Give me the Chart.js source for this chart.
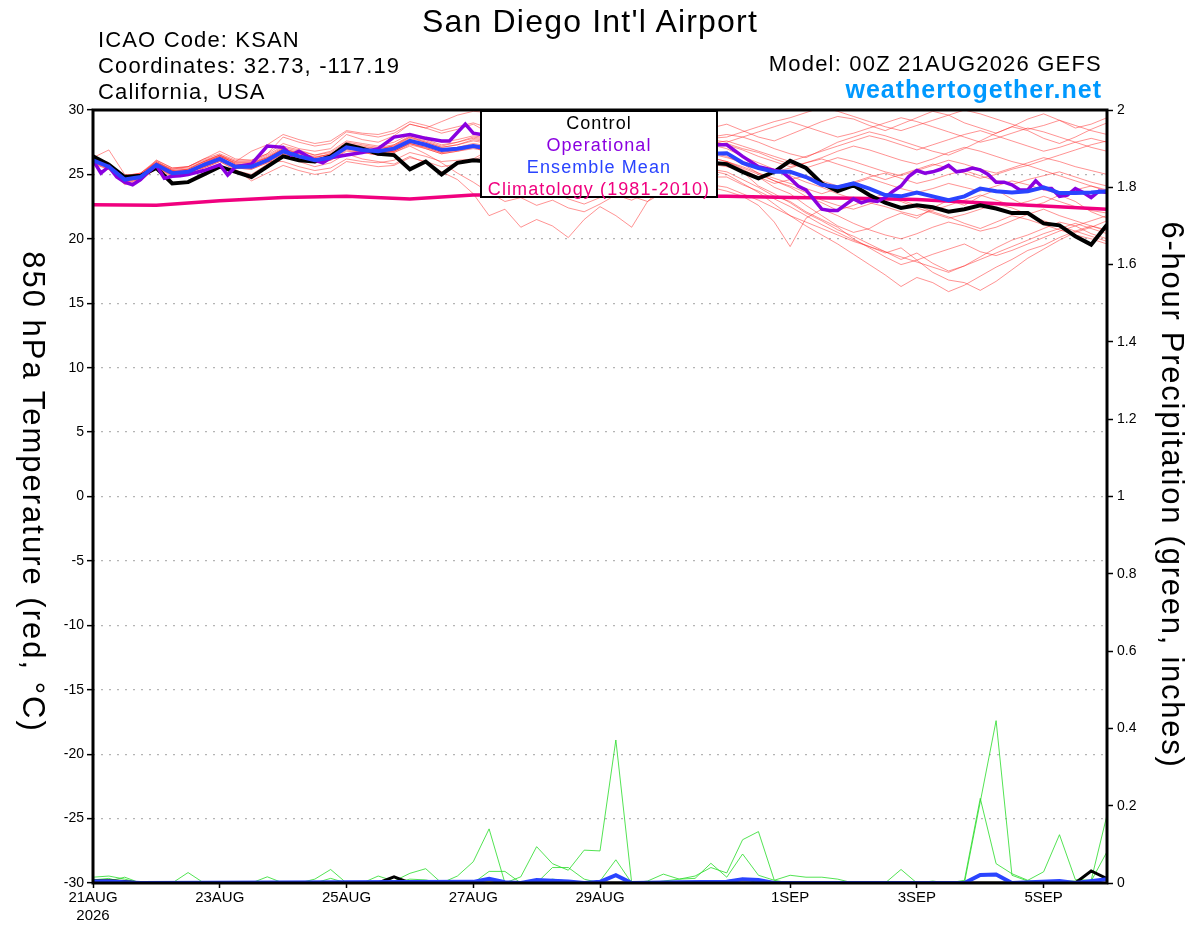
<!DOCTYPE html>
<html>
<head>
<meta charset="utf-8">
<title>San Diego Int'l Airport - GEFS</title>
<script src="https://cdn.jsdelivr.net/npm/chart.js@4.4.0/dist/chart.umd.min.js"></script>
<style>
  body { margin: 0; background: #fff; }
  #wrap { position: relative; width: 1200px; height: 927px; font-family: 'Liberation Sans', Arial, sans-serif; }
  #wrap canvas { position: absolute; left: 0; top: 0; }
  .txt { position: absolute; white-space: nowrap; line-height: 1; color: #000; }
  .rot { position: absolute; width: 700px; text-align: center; transform: rotate(90deg); font-size: 31px; line-height: 34px; height: 34px; }
  #legendBox { position: absolute; left: 480px; top: 110px; width: 234px; height: 84px; border: 2px solid #000; background: #fff;
               text-align: center; font-size: 18px; line-height: 22px; letter-spacing: 1.1px; }
</style>
</head>
<body>
<div id="wrap">
  <canvas id="chart" width="1200" height="927"></canvas>
  <div class="txt" style="left:0;width:1180px;text-align:center;top:5px;font-size:32px;letter-spacing:1.2px;">San Diego Int'l Airport</div>
  <div class="txt" style="left:98px;top:29px;font-size:22px;letter-spacing:1.15px;">ICAO Code: KSAN</div>
  <div class="txt" style="left:98px;top:55px;font-size:22px;letter-spacing:1.15px;">Coordinates: 32.73, -117.19</div>
  <div class="txt" style="left:98px;top:81px;font-size:22px;letter-spacing:1.15px;">California, USA</div>
  <div class="txt" style="right:98px;top:53px;font-size:22px;letter-spacing:1.2px;">Model: 00Z 21AUG2026 GEFS</div>
  <div class="txt" style="right:98px;top:77px;font-size:25px;font-weight:bold;letter-spacing:1px;color:#0099ff;">weathertogether.net</div>
  <div class="rot" style="left:-317px;top:475px;letter-spacing:2px;">850 hPa Temperature (red, °C)</div>
  <div class="rot" style="left:822px;top:478px;letter-spacing:1.75px;">6-hour Precipitation (green, inches)</div>
  <div id="legendBox">
    <div style="color:#000">Control</div>
    <div style="color:#8a00e0">Operational</div>
    <div style="color:#2a44ff">Ensemble Mean</div>
    <div style="color:#f0007f">Climatology (1981-2010)</div>
  </div>
</div>
<script>
// forecast hours, 6-hourly from 00Z 21AUG2026
const hours = Array.from({ length: 65 }, (_, i) => i * 6);

// x axis tick labels
const tickHours = [0, 48, 96, 144, 192, 264, 312, 360];
const tickLabels = [["21AUG", "2026"], "23AUG", "25AUG", "27AUG", "29AUG", "1SEP", "3SEP", "5SEP"];

// control run (black)
const controlTemps = [
    26.4, 25.75, 24.8, 24.9, 25.5, 24.3, 24.4, 25.0, 25.6, 25.2, 24.8, 25.6, 26.4, 26.1, 26.0, 26.4, 27.3, 27.0, 26.6, 26.5, 25.4, 26.0, 25.0, 25.9, 26.1,
    26.0, 25.8, 25.5, 25.9, 26.2, 25.7, 25.4, 25.8, 26.1, 25.9, 25.6, 25.3, 25.7, 26.0, 25.9,
    25.8, 25.2, 24.7, 25.2, 26.05, 25.5, 24.3, 23.7, 24.15, 23.4, 22.8, 22.4, 22.6, 22.45, 22.1, 22.3, 22.6, 22.35, 22.0, 22.0, 21.2, 21.05, 20.2, 19.55, 21.1
];

// ensemble mean (blue)
const meanTemps = [
    26.1, 25.6, 24.6, 24.8, 25.75, 25.1, 25.2, 25.75, 26.2, 25.6, 25.6, 26.1, 26.8, 26.4, 26.1, 26.3, 27.1, 26.9, 26.8, 27.0, 27.6, 27.3, 26.9, 27.0, 27.2,
    27.0, 26.9, 26.8, 26.6, 26.5, 26.3, 26.2, 26.2, 26.3, 26.5, 26.6, 26.6, 26.7, 26.8, 26.6,
    26.65, 25.9, 25.5, 25.2, 25.2, 24.8, 24.2, 24.0, 24.3, 23.9, 23.4, 23.3, 23.6, 23.3, 23.0, 23.3, 23.9, 23.7, 23.6, 23.7, 24.0, 23.55, 23.55, 23.6, 23.7
];

// operational run (purple), 3-hourly vertices
const opHours = [0, 3, 6, 9, 12, 15, 18, 21, 24, 27, 30, 33, 36, 42, 48, 51, 54, 60, 66, 72, 75, 78, 84, 87, 90, 96, 102, 108, 114, 120, 126, 132, 135, 141, 144, 147,
    150, 156, 162, 168, 174, 180, 186, 192, 198, 204, 210, 216, 222, 228, 234, 237, 240, 246, 252, 258, 261, 264, 267, 270, 276, 279, 282, 288, 291, 294, 297, 300,
    303, 306, 309, 312, 315, 318, 321, 324, 327, 330, 333, 336, 339, 342, 345, 348, 351, 354, 357, 360, 363, 366, 369, 372, 375, 378, 381, 384];
const opTemps = [26.1, 25.1, 25.6, 24.8, 24.4, 24.2, 24.6, 25.2, 25.7, 24.7, 24.85, 24.9, 25.0, 25.3, 25.75, 24.95, 25.6, 25.8, 27.2, 27.1, 26.5, 26.8, 26.1, 25.9, 26.3, 26.5, 26.7, 27.0, 27.9, 28.1, 27.8, 27.6, 27.6, 28.9, 28.2, 28.1,
    28.0, 27.7, 27.9, 27.5, 27.2, 27.6, 27.8, 27.4, 27.1, 27.3, 27.6, 27.2, 26.9, 27.1, 27.3, 27.3, 27.3, 26.4, 25.6, 25.3, 25.2, 24.7, 24.1, 23.8, 22.3, 22.2, 22.2, 23.1, 22.8, 23.0, 22.9, 23.2,
    23.7, 24.1, 24.85, 25.3, 25.1, 25.2, 25.4, 25.7, 25.2, 25.3, 25.5, 25.35, 25.0, 24.4, 24.4, 24.2, 23.8, 23.8, 24.5, 23.9, 23.9, 23.3, 23.4, 23.9, 23.6, 23.2, 23.7, 23.6];

// climatology 1981-2010 (pink), daily
const climHours = [0, 24, 48, 72, 96, 120, 144, 168, 192, 216, 240, 264, 288, 312, 336, 360, 384];
const climTemps = [22.65, 22.6, 22.95, 23.2, 23.3, 23.1, 23.4, 23.4, 23.35, 23.3, 23.3, 23.2, 23.15, 23.05, 22.8, 22.55, 22.3];

// ensemble members (red), 6-hourly
const memberTemps = [
    [26.3, 25.4, 24.3, 24.6, 25.5, 25.0, 25.3, 25.5, 26.0, 25.3, 25.0, 25.8, 26.5, 26.0, 25.6, 25.9, 26.6, 26.2, 26.0, 25.8, 26.4, 25.9, 25.2, 24.6, 23.5,
     21.8, 22.3, 20.9, 21.5, 21.0, 20.1, 21.5, 22.5, 21.8, 20.9, 22.9, 24.0, 24.6, 25.2, 25.8,
     26.0, 25.4, 24.8, 24.0, 23.5, 22.6, 21.8, 21.0, 20.5, 20.8, 21.5, 22.0, 21.6, 22.4, 23.0, 22.6, 23.3, 23.8, 23.1, 22.5, 22.8, 23.4, 22.9, 22.1, 21.6],
    [25.9, 25.8, 24.9, 25.1, 26.0, 25.3, 25.0, 25.9, 26.4, 25.9, 25.9, 26.3, 27.0, 26.6, 26.3, 26.6, 27.3, 27.0, 26.9, 26.7, 27.2, 26.6, 25.9, 25.1, 24.4,
     23.6, 22.9, 23.2, 22.6, 23.0, 22.4, 22.1, 22.7, 23.4, 23.0, 23.6, 24.3, 24.8, 25.3, 25.6,
     25.9, 25.2, 24.1, 23.5, 22.8, 22.0, 21.4, 20.7, 20.2, 19.6, 19.0, 18.4, 18.9, 18.1, 17.5, 17.9, 18.6, 19.3, 19.9, 20.3, 20.8, 21.3, 21.0, 20.4, 20.0],
    [26.0, 25.5, 24.7, 24.9, 25.9, 25.2, 25.4, 26.0, 26.5, 25.8, 25.7, 26.2, 26.9, 26.5, 26.2, 26.5, 27.2, 27.1, 26.8, 27.3, 27.9, 27.6, 27.2, 27.5, 27.8,
     27.6, 27.3, 27.0, 26.8, 26.9, 26.5, 26.3, 26.0, 25.8, 26.1, 26.4, 26.2, 25.9, 25.6, 25.3,
     25.0, 24.3, 23.6, 22.7, 21.8, 21.0, 20.3, 19.6, 18.8, 18.0, 17.2, 16.3, 17.0, 16.6, 15.9, 16.4, 17.1, 17.8, 18.4, 19.1, 19.5, 20.1, 20.6, 21.0, 20.7],
    [26.2, 25.7, 24.5, 24.7, 25.6, 24.9, 25.1, 25.6, 26.1, 25.5, 25.4, 25.9, 26.6, 26.2, 25.9, 26.1, 26.8, 26.7, 26.5, 26.8, 27.4, 27.0, 26.6, 26.8, 27.1,
     26.8, 26.5, 26.7, 26.3, 26.0, 25.7, 25.9, 25.6, 25.3, 25.7, 26.0, 26.3, 26.1, 25.8, 25.4,
     25.2, 24.6, 24.0, 23.3, 22.9, 22.1, 21.5, 20.9, 20.0, 19.3, 18.6, 18.0, 18.35, 17.4, 16.8, 16.6, 16.0, 16.7, 17.6, 18.5, 19.2, 19.9, 20.5, 20.9, 21.4],
    [26.4, 25.9, 24.8, 25.0, 26.0, 25.4, 25.6, 26.1, 26.5, 26.0, 26.8, 27.3, 28.1, 27.7, 27.4, 27.6, 28.4, 28.2, 28.1, 28.4, 29.1, 28.8, 28.4, 28.7, 29.0,
     28.6, 28.2, 28.5, 28.6, 28.2, 27.9, 28.4, 28.8, 28.5, 28.1, 27.7, 27.5, 27.9, 28.3, 28.6,
     28.9, 28.4, 27.9, 27.6, 28.1, 28.6, 29.1, 29.5, 29.3, 28.8, 28.4, 28.9, 29.4, 29.9, 29.6, 29.0, 28.6, 28.2, 28.7, 29.3, 29.7, 29.2, 28.6, 28.9, 29.4],
    [26.0, 25.6, 24.6, 24.9, 25.8, 25.2, 25.3, 25.8, 26.3, 25.7, 25.8, 26.3, 27.0, 26.6, 26.4, 26.5, 27.4, 27.2, 27.0, 27.2, 27.8, 27.5, 27.1, 27.3, 27.7,
     27.5, 27.2, 27.4, 27.0, 26.8, 26.9, 27.2, 27.5, 27.3, 27.0, 26.8, 27.1, 27.4, 27.7, 27.9,
     28.1, 27.9, 27.5, 27.0, 26.6, 26.3, 26.9, 27.5, 27.9, 28.3, 28.0, 27.6, 27.2, 26.8, 26.5, 27.0, 27.6, 28.2, 28.7, 28.4, 27.8, 27.4, 27.9, 28.5, 29.0],
    [26.1, 25.5, 24.4, 24.6, 25.7, 25.1, 25.0, 25.7, 26.3, 25.6, 25.5, 26.0, 26.0, 25.6, 25.3, 25.5, 26.2, 26.0, 25.9, 26.1, 26.7, 26.4, 26.0, 26.1, 26.2,
     26.9, 26.6, 26.4, 26.6, 26.8, 26.5, 26.1, 25.9, 26.2, 26.4, 26.6, 26.4, 26.2, 26.5, 26.3,
     26.0, 25.5, 25.0, 24.5, 24.1, 23.6, 23.0, 22.6, 22.3, 22.7, 23.2, 22.9, 22.4, 22.0, 21.6, 21.9, 22.3, 22.7, 22.4, 21.9, 21.4, 21.0, 20.6, 20.2, 19.8],
    [26.3, 26.9, 25.0, 24.9, 26.1, 25.5, 25.6, 26.2, 26.8, 26.2, 26.1, 26.6, 27.4, 27.0, 26.8, 27.0, 28.1, 27.7, 27.5, 28.0, 28.9, 28.6, 29.1, 29.6, 29.9,
     29.8, 29.5, 29.2, 29.0, 28.7, 28.9, 29.2, 29.0, 28.6, 28.2, 27.9, 28.1, 28.4, 28.0, 27.6,
     27.3, 26.9, 26.4, 26.0, 25.6, 25.9, 26.3, 26.8, 27.2, 26.9, 26.5, 26.1, 25.8, 26.2, 26.7, 27.1, 26.8, 26.4, 26.0, 25.7, 26.1, 26.5, 26.9, 27.3, 27.6],
    [25.8, 25.4, 24.2, 24.5, 25.5, 24.8, 25.0, 25.5, 26.0, 25.4, 24.5, 25.1, 25.7, 25.3, 25.0, 25.2, 26.0, 25.8, 25.6, 25.7, 26.3, 26.0, 25.6, 25.8, 26.1,
     26.6, 26.3, 26.0, 26.3, 26.6, 26.4, 26.0, 25.7, 25.9, 26.2, 26.5, 26.7, 26.4, 26.0, 25.8,
     25.6, 25.3, 24.8, 24.3, 24.6, 24.9, 24.5, 24.1, 24.4, 24.8, 25.1, 24.7, 24.3, 24.6, 25.0, 25.3, 24.9, 24.5, 24.2, 24.6, 24.9, 25.2, 24.8, 24.4, 24.1],
    [26.0, 25.6, 24.5, 24.8, 25.6, 25.0, 25.2, 25.6, 26.1, 25.6, 25.5, 26.1, 26.7, 26.3, 26.0, 26.3, 27.0, 26.8, 26.7, 26.8, 27.4, 27.1, 26.7, 26.9, 27.1,
     26.9, 26.7, 26.5, 26.2, 26.0, 26.3, 26.5, 26.2, 25.9, 25.6, 25.3, 25.0, 24.7, 24.4, 24.0,
     23.7, 23.3, 22.6, 21.3, 19.4, 21.6, 22.3, 21.8, 21.2, 20.7, 20.3, 20.0, 20.4, 20.9, 21.3, 21.0, 20.6, 20.9, 21.4, 21.9, 22.3, 21.8, 21.4, 21.0, 20.6],
    [26.2, 25.8, 24.7, 24.9, 25.9, 25.3, 25.4, 26.0, 26.4, 25.9, 25.9, 26.4, 27.1, 26.8, 26.5, 26.7, 27.5, 27.3, 27.1, 27.3, 28.0, 27.7, 27.3, 27.5, 27.9,
     27.7, 27.5, 27.8, 27.6, 27.3, 27.1, 27.4, 27.7, 27.9, 27.6, 27.3, 27.0, 27.2, 27.5, 27.8,
     27.9, 28.3, 28.7, 29.1, 29.4, 29.8, 30.2, 29.9, 29.5, 29.1, 28.7, 28.4, 28.8, 29.2, 29.6, 30.0, 29.7, 29.3, 28.9, 28.5, 28.8, 29.2, 28.8, 28.4, 28.1],
    [26.1, 25.7, 24.6, 24.7, 25.8, 25.2, 25.3, 25.8, 26.2, 25.7, 25.6, 26.2, 26.9, 26.4, 26.1, 26.4, 27.2, 27.0, 26.9, 27.1, 27.7, 27.3, 26.9, 27.1, 27.3,
     27.1, 26.8, 26.6, 26.9, 27.1, 26.8, 26.5, 26.7, 27.0, 27.2, 26.9, 26.6, 26.8, 27.1, 27.3,
     27.0, 26.4, 25.9, 25.4, 24.9, 24.4, 24.0, 23.5, 23.1, 22.8, 22.5, 22.1, 21.8, 22.2, 22.6, 23.0, 23.4, 23.0, 22.6, 22.9, 23.3, 22.9, 22.5, 22.2, 22.0],
    [25.9, 25.5, 24.5, 24.8, 25.6, 25.0, 25.1, 25.7, 26.2, 25.5, 25.6, 26.0, 26.7, 26.3, 26.0, 26.3, 27.0, 26.8, 26.6, 26.9, 27.5, 27.2, 26.8, 27.0, 27.2,
     26.5, 25.9, 25.0, 24.2, 23.6, 23.1, 22.7, 23.2, 23.8, 23.3, 22.9, 23.6, 24.0, 24.4, 24.8,
     24.8, 24.2, 23.7, 23.1, 22.5, 21.8, 21.1, 20.5, 19.9, 19.4, 18.9, 19.3, 18.35, 18.8, 19.2, 19.6, 19.0, 18.7, 19.1, 19.6, 20.1, 20.6, 21.0, 21.4, 21.8],
    [26.3, 25.7, 24.7, 25.0, 25.9, 25.3, 25.4, 25.9, 26.4, 25.8, 25.8, 26.3, 27.0, 26.7, 26.3, 26.6, 27.3, 27.1, 27.0, 27.2, 27.9, 27.5, 27.1, 27.3, 27.6,
     27.4, 27.1, 26.9, 27.2, 27.4, 27.1, 26.8, 26.9, 27.2, 27.4, 27.1, 26.8, 26.6, 26.9, 27.2,
     27.4, 27.0, 26.7, 26.2, 25.8, 25.5, 25.9, 26.3, 26.0, 25.6, 25.2, 24.9, 25.3, 25.7, 26.1, 25.8, 25.4, 25.1, 25.5, 25.9, 26.3, 26.0, 25.6, 25.3, 25.0],
    [26.0, 25.6, 24.6, 24.8, 25.7, 25.1, 25.2, 25.7, 26.3, 25.7, 25.7, 26.2, 26.8, 26.4, 26.1, 26.4, 27.1, 26.9, 26.8, 27.0, 27.6, 27.3, 26.9, 27.1, 27.4,
     27.2, 26.9, 26.6, 26.4, 26.7, 26.9, 26.6, 26.3, 26.1, 26.4, 26.7, 26.5, 26.2, 26.4, 26.7,
     26.4, 25.8, 25.1, 24.5, 24.0, 23.3, 22.8, 22.2, 22.6, 23.1, 23.5, 23.0, 22.6, 22.1, 21.7, 21.2, 20.8, 21.3, 21.8, 21.5, 21.1, 20.7, 20.3, 20.0, 19.6],
    [26.2, 25.8, 24.8, 25.1, 25.9, 25.4, 25.5, 26.0, 26.5, 26.0, 26.0, 26.5, 27.2, 26.9, 26.5, 26.8, 27.6, 27.4, 27.2, 27.5, 28.1, 27.9, 27.5, 27.7, 28.0,
     27.8, 27.5, 27.3, 27.5, 27.8, 27.6, 27.3, 27.1, 27.4, 27.6, 27.3, 27.0, 26.8, 27.1, 27.4,
     27.6, 27.2, 26.8, 26.4, 26.0, 26.4, 26.8, 27.2, 27.6, 28.0, 27.7, 27.3, 26.9, 27.3, 27.7, 28.1, 28.4, 28.0, 27.6, 27.2, 26.8, 27.1, 27.5, 27.8, 27.5],
    [26.1, 25.5, 24.5, 24.7, 25.6, 25.0, 25.2, 25.6, 26.1, 25.6, 25.5, 26.0, 26.7, 26.3, 26.0, 26.2, 27.0, 26.8, 26.7, 26.8, 27.4, 27.1, 26.7, 26.9, 27.1,
     26.9, 26.6, 26.8, 27.0, 26.7, 26.4, 26.6, 26.9, 26.7, 26.4, 26.2, 26.5, 26.8, 26.6, 26.3,
     26.0, 25.6, 25.1, 24.7, 24.3, 23.9, 23.5, 23.9, 24.3, 24.7, 24.3, 23.9, 23.6, 23.9, 24.3, 24.0, 23.7, 24.1, 24.5, 24.2, 23.8, 23.5, 23.8, 24.1, 23.7],
    [26.2, 25.6, 24.6, 24.8, 25.7, 25.1, 25.3, 25.8, 26.2, 25.6, 25.6, 26.1, 26.8, 26.4, 26.2, 26.3, 27.1, 26.9, 26.8, 27.0, 27.6, 27.3, 26.9, 27.0, 27.2,
     27.0, 26.8, 26.5, 26.2, 25.9, 26.1, 26.4, 26.2, 25.9, 25.6, 25.4, 25.1, 24.8, 24.5, 24.2,
     24.0, 23.5, 23.0, 22.4, 21.8, 21.3, 20.8, 20.3, 19.8, 19.4, 19.0, 18.6, 18.2, 17.8, 17.4, 17.9, 18.4, 18.9, 19.4, 19.9, 20.4, 20.8, 21.2, 20.8, 20.4],
    [26.4, 25.8, 24.9, 25.1, 26.1, 25.5, 25.6, 26.2, 26.6, 26.1, 26.1, 26.6, 27.9, 27.5, 27.2, 27.4, 28.3, 28.1, 27.9, 28.2, 28.9, 28.6, 28.2, 28.5, 28.9,
     28.2, 27.9, 27.6, 27.9, 28.2, 27.9, 27.6, 27.4, 27.7, 28.0, 28.3, 28.6, 28.3, 28.0, 27.7,
     27.5, 27.9, 28.3, 28.7, 29.1, 28.7, 28.3, 27.9, 28.2, 28.6, 29.0, 29.4, 29.1, 28.7, 28.3, 27.9, 27.5, 27.8, 28.2, 28.6, 28.3, 27.9, 27.5, 27.1, 26.8],
    [25.9, 25.4, 24.4, 24.7, 25.5, 24.9, 25.1, 25.6, 26.1, 25.5, 25.4, 25.9, 26.6, 26.2, 25.9, 26.1, 26.9, 26.7, 26.5, 26.7, 27.3, 27.0, 26.6, 26.8, 27.0,
     26.8, 26.6, 26.9, 27.1, 26.8, 26.5, 26.7, 27.0, 27.2, 26.9, 26.6, 26.8, 27.1, 26.9, 26.6,
     26.3, 26.0, 25.6, 25.2, 25.5, 25.9, 26.2, 25.8, 25.4, 25.0, 24.6, 25.0, 25.4, 25.8, 25.5, 25.1, 24.7, 25.0, 25.4, 25.7, 25.3, 24.9, 24.5, 24.1, 23.8]
];

// 6-hour precipitation, [hour, inches] vertices
const precipMembers = [
    [[0, 0.015], [6, 0.018], [12, 0.01], [18, 0], [30, 0], [36, 0.027], [42, 0], [78, 0], [84, 0.01], [90, 0.035], [96, 0], [144, 0], [150, 0.03], [156, 0.03], [162, 0],
     [168, 0], [174, 0.04], [180, 0.04], [186, 0.01], [192, 0], [210, 0], [216, 0.005], [222, 0.01], [228, 0.012], [234, 0.051], [240, 0.015], [246, 0.075], [252, 0.02], [258, 0.007], [264, 0], [384, 0]],
    [[0, 0.01], [6, 0.005], [12, 0.015], [18, 0], [60, 0], [66, 0.016], [72, 0], [102, 0], [108, 0.018], [114, 0.005], [120, 0.025], [126, 0.037], [132, 0], [138, 0.018], [144, 0.055], [150, 0.14], [156, 0],
     [204, 0], [210, 0.005], [216, 0.023], [222, 0.01], [228, 0.018], [234, 0.04], [240, 0.026], [246, 0.112], [252, 0.133], [258, 0.007], [264, 0.02], [270, 0.015], [276, 0.015], [282, 0.01], [288, 0], [384, 0]],
    [[0, 0], [156, 0], [162, 0.016], [168, 0.094], [174, 0.05], [180, 0.033], [186, 0.085], [192, 0.083], [198, 0.37], [204, 0], [300, 0], [306, 0.035], [312, 0], [318, 0.005], [324, 0],
     [330, 0.007], [336, 0.219], [342, 0.05], [348, 0.024], [354, 0.007], [360, 0.029], [366, 0.125], [372, 0.009], [378, 0.007], [384, 0.176]],
    [[0, 0], [186, 0], [192, 0.005], [198, 0.06], [204, 0], [330, 0], [342, 0.42], [348, 0.02], [354, 0.005], [378, 0.005], [384, 0.081]],
    [[0, 0.008], [6, 0.012], [12, 0], [84, 0], [90, 0.012], [96, 0], [114, 0], [120, 0.01], [126, 0.008], [132, 0], [168, 0], [174, 0.01], [180, 0.005], [186, 0], [234, 0], [240, 0.006], [246, 0.012], [252, 0], [384, 0]]
];
const precipControl = [[0, 0.005], [6, 0.006], [12, 0.004], [18, 0], [108, 0], [114, 0.016], [120, 0], [372, 0], [378, 0.031], [384, 0.011]];
const precipMean = [[0, 0.004], [6, 0.004], [18, 0], [144, 0.003], [150, 0.011], [156, 0.002], [162, 0], [168, 0.008], [174, 0.006], [180, 0.004], [186, 0], [192, 0.003], [198, 0.02], [204, 0],
    [222, 0.002], [240, 0.003], [246, 0.01], [252, 0.008], [258, 0], [330, 0], [336, 0.021], [342, 0.022], [348, 0], [366, 0.005], [372, 0], [384, 0.01]];

const toXY = (xs, ys) => ys.map((v, i) => ({ x: xs[i], y: v }));
const pairs = p => p.map(([x, y]) => ({ x, y }));

const datasets = [];
datasets.push({ data: toXY(hours, meanTemps), yAxisID: "y", borderColor: "#2a44ff", borderWidth: 4, order: 1 });
datasets.push({ data: toXY(opHours, opTemps), yAxisID: "y", borderColor: "#8a00e0", borderWidth: 3.5, order: 2 });
datasets.push({ data: toXY(hours, controlTemps), yAxisID: "y", borderColor: "#000", borderWidth: 4, order: 3 });
datasets.push({ data: toXY(climHours, climTemps), yAxisID: "y", borderColor: "#f0007f", borderWidth: 3.5, order: 4 });
datasets.push({ data: pairs(precipMean), yAxisID: "y1", borderColor: "#2a44ff", borderWidth: 4, order: 5 });
datasets.push({ data: pairs(precipControl), yAxisID: "y1", borderColor: "#000", borderWidth: 3, order: 5 });
precipMembers.forEach(p => datasets.push({ data: pairs(p), yAxisID: "y1", borderColor: "rgba(40,220,40,0.8)", borderWidth: 1, order: 6 }));
memberTemps.forEach(t => datasets.push({ data: toXY(hours, t), yAxisID: "y", borderColor: "rgba(255,40,40,0.5)", borderWidth: 1, order: 8 }));

Chart.defaults.font.family = "'Liberation Sans', Arial, sans-serif";
Chart.defaults.color = "#000";

// thick black frame round the plot area
const framePlugin = {
    id: "frame",
    afterDraw(chart) {
        const a = chart.chartArea, ctx = chart.ctx;
        ctx.save();
        ctx.strokeStyle = "#000";
        ctx.lineWidth = 3;
        ctx.strokeRect(a.left, a.top, a.right - a.left, a.bottom - a.top);
        ctx.restore();
    }
};

new Chart(document.getElementById("chart").getContext("2d"), {
    type: "line",
    data: { datasets },
    plugins: [framePlugin],
    options: {
        responsive: false,
        animation: false,
        layout: { padding: { top: 110 } },
        elements: { point: { radius: 0 }, line: { tension: 0 } },
        plugins: { legend: { display: false }, tooltip: { enabled: false } },
        scales: {
            x: {
                type: "linear",
                min: 0,
                max: 384,
                afterBuildTicks: s => { s.ticks = tickHours.map(v => ({ value: v })); },
                afterFit: s => { s.height = 44; },
                grid: { drawOnChartArea: false, tickLength: 5, tickColor: "#000", tickWidth: 1.5 },
                border: { display: false },
                ticks: {
                    autoSkip: false,
                    maxRotation: 0,
                    padding: 1,
                    font: { size: 15 },
                    callback: v => tickLabels[tickHours.indexOf(v)]
                }
            },
            y: {
                position: "left",
                min: -30,
                max: 30,
                afterFit: s => { s.width = 93; },
                grid: { color: "#b4b4b4", lineWidth: 1.3, tickLength: 6, tickColor: "#000", tickWidth: 1.5 },
                border: { display: false, dash: [2, 6] },
                ticks: { stepSize: 5, padding: 3, font: { size: 14 } }
            },
            y1: {
                position: "right",
                min: 0,
                max: 2,
                afterFit: s => { s.width = 93; },
                grid: { drawOnChartArea: false, tickLength: 6, tickColor: "#000", tickWidth: 1.5 },
                border: { display: false },
                ticks: { stepSize: 0.2, padding: 4, font: { size: 14 }, callback: v => String(+v.toFixed(1)) }
            }
        }
    }
});
</script>
</body>
</html>
